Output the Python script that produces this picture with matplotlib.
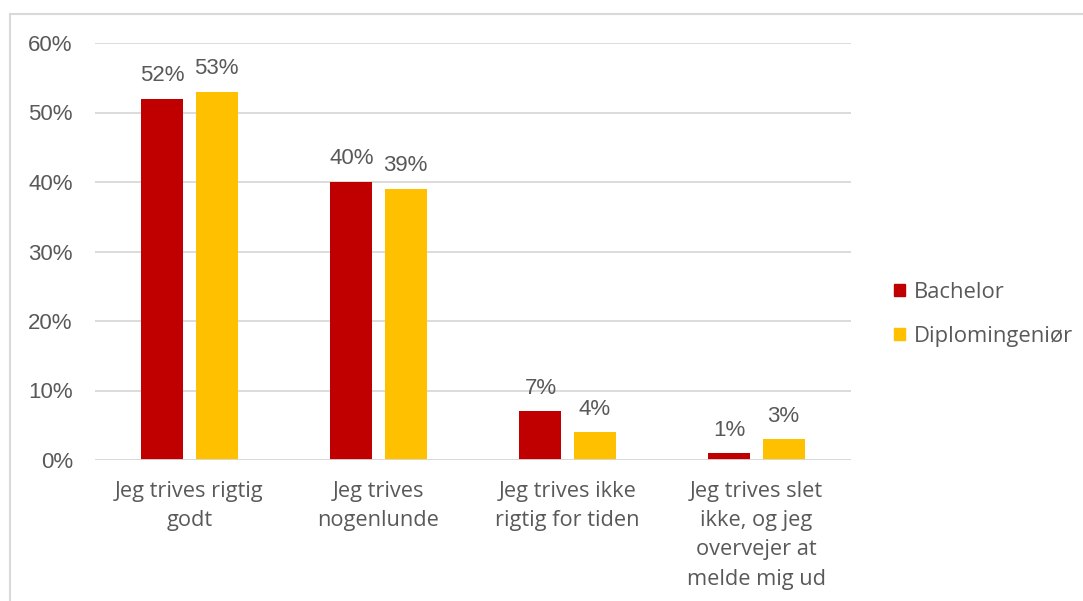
import matplotlib
matplotlib.use("Agg")
import matplotlib.pyplot as plt
import numpy as np
from matplotlib.lines import Line2D
from matplotlib.patches import Patch

categories = ["Jeg trives rigtig\ngodt", "Jeg trives\nnogenlunde", "Jeg trives ikke\nrigtig for tiden",
              "Jeg trives slet\nikke, og jeg\novervejer at\nmelde mig ud"]
series_names = ["Bachelor", "Diplomingeniør"]
bachelor = [52, 40, 7, 1]
diplom = [53, 39, 4, 3]
yticks = [0, 10, 20, 30, 40, 50, 60]

red = "#C00000"
yellow = "#FFC000"
txt = "#595959"
grid = "#D9D9D9"

fig = plt.figure(figsize=(10.83, 6.01), dpi=100)
ax = fig.add_axes([95/1083, 1-460/601, 756/1083, 417/601])

x = np.arange(len(categories))
w = 0.222
off = 0.143
b1 = ax.bar(x - off, bachelor, w, color=red, zorder=3)
b2 = ax.bar(x + off, diplom, w, color=yellow, zorder=3)

for bars, vals in ((b1, bachelor), (b2, diplom)):
    for r, v in zip(bars, vals):
        ax.annotate(f"{v}%", (r.get_x() + r.get_width()/2, v), xytext=(0, 9),
                    textcoords="offset points", ha="center", va="bottom",
                    fontsize=16, color=txt, family="Liberation Sans")

ax.set_xlim(-0.5, len(categories) - 0.5)
ax.set_ylim(0, 60)
ax.set_yticks(yticks)
ax.set_yticklabels([f"{t}%" for t in yticks], fontsize=16, color=txt, family="Liberation Sans")
ax.set_xticks(x)
ax.set_xticklabels(categories, fontsize=15.7, color=txt, family="Open Sans", linespacing=1.52, va="top")
ax.tick_params(axis="y", length=0, pad=16)
ax.tick_params(axis="x", length=0, pad=15)
ax.yaxis.grid(True, color=grid, linewidth=1.3, zorder=0)
for s in ax.spines.values():
    s.set_visible(False)
ax.axhline(0, color=grid, linewidth=1.3, zorder=4)

handles = [Patch(color=red), Patch(color=yellow)]
leg = fig.legend(handles, series_names, loc="upper left", bbox_to_anchor=(874/1083, 1-262/601),
                 frameon=False, handlelength=0.5, handleheight=0.5, handletextpad=0.4,
                 labelspacing=1.05, prop={"family": "Open Sans", "size": 15.8})
for t in leg.get_texts():
    t.set_color(txt)

# outer border (top and left visible)
fig.add_artist(Line2D([10/1083, 10/1083], [0, 1-13.5/601], transform=fig.transFigure, color=grid, linewidth=1.5))
fig.add_artist(Line2D([10/1083, 1], [1-13.5/601, 1-13.5/601], transform=fig.transFigure, color=grid, linewidth=1.5))

fig.savefig("out.png", dpi=100)
